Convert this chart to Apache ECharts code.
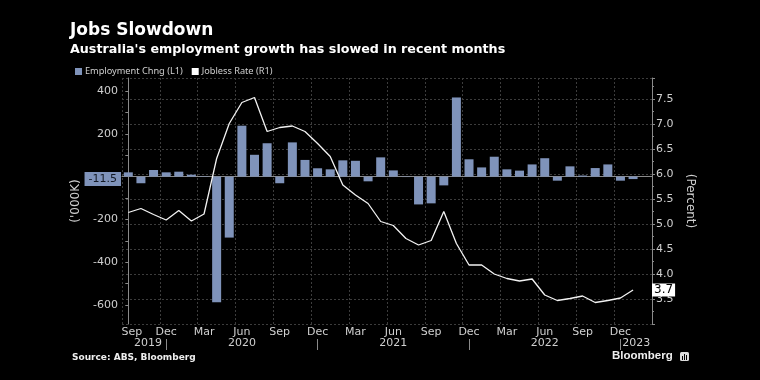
<!DOCTYPE html>
<html>
<head>
<meta charset="utf-8">
<script src="https://cdn.jsdelivr.net/npm/echarts@6/dist/echarts.min.js"></script>
<style>
html,body{margin:0;padding:0;background:#000;}
#chart{width:760px;height:380px;}
</style>
</head>
<body>
<div id="chart"></div>
<script>
// Months (Sep 2019 .. Feb 2023; Feb 2023 is an empty slot at the right edge)
var months = [
  '2019-09','2019-10','2019-11','2019-12',
  '2020-01','2020-02','2020-03','2020-04','2020-05','2020-06','2020-07','2020-08','2020-09','2020-10','2020-11','2020-12',
  '2021-01','2021-02','2021-03','2021-04','2021-05','2021-06','2021-07','2021-08','2021-09','2021-10','2021-11','2021-12',
  '2022-01','2022-02','2022-03','2022-04','2022-05','2022-06','2022-07','2022-08','2022-09','2022-10','2022-11','2022-12',
  '2023-01','2023-02'
];
var monthNames = ['Jan','Feb','Mar','Apr','May','Jun','Jul','Aug','Sep','Oct','Nov','Dec'];

// Employment change, thousands
var employmentChange = [
  20, -31, 31, 20,
  23, 9, 2, -587, -285, 238, 102, 156, -31, 160, 78, 39,
  34, 76, 74, -22, 90, 29, -2, -130, -125, -41, 370, 81,
  43, 93, 34, 28, 57, 86, -19, 48, 5, 40, 57, -19,
  -11.5, null
];

// Jobless rate, percent
var joblessRate = [
  5.23, 5.31, 5.19, 5.08,
  5.27, 5.06, 5.20, 6.31, 7.01, 7.43, 7.53, 6.85, 6.93, 6.96, 6.85, 6.61,
  6.35, 5.78, 5.58, 5.41, 5.05, 4.97, 4.71, 4.58, 4.67, 5.25, 4.61, 4.18,
  4.18, 4.00, 3.91, 3.86, 3.90, 3.58, 3.47, 3.51, 3.56, 3.43, 3.47, 3.52,
  3.68, null
];

// Left axis tick labels / ticks
var leftLabels = [-600, -400, -200, 200, 400];
var leftTicks = [-600, -500, -400, -300, -200, -100, 0, 100, 200, 300, 400];

// Year row labels: text and the month slot they sit on
var yearLabels = ['2019', '2020', '2021', '2022', '2023'];
var yearLabelSlots = [1.56, 9, 21, 33, 40.25];
var yearSeparatorSlots = [3, 15, 27, 39];

var lastEmp = employmentChange[40];
var lastRate = joblessRate[40];

var barColor = '#7f93ba';
var gridColor = '#3c3c3c';
var axisColor = '#8a8a8a';
var labelColor = '#cfcfcf';
var fontFam = '"DejaVu Sans", sans-serif';
var narrowFam = '"Noto Sans", sans-serif';

var chart = echarts.init(document.getElementById('chart'));

var option = {
  backgroundColor: '#000',
  animation: false,
  textStyle: { fontFamily: fontFam },
  title: [{
    text: 'Jobs Slowdown',
    left: 65, top: 17,
    textStyle: { color: '#fff', fontSize: 17, fontWeight: 'bold', fontFamily: fontFam }
  }, {
    text: "Australia's employment growth has slowed in recent months",
    left: 65, top: 38,
    textStyle: { color: '#fff', fontSize: 12.7, fontWeight: 'bold', fontFamily: fontFam }
  }],
  legend: {
    left: 70, top: 62,
    itemWidth: 7, itemHeight: 7, itemGap: 9,
    icon: 'rect',
    textStyle: { color: labelColor, fontSize: 9.2, fontFamily: narrowFam, padding: [0, 0, 0, -2] },
    data: [
      { name: 'Employment Chng (L1)', itemStyle: { color: barColor } },
      { name: 'Jobless Rate (R1)', itemStyle: { color: '#fff' } }
    ]
  },
  grid: { left: 122, right: 108, top: 78, bottom: 56 },
  xAxis: [{
    type: 'category',
    data: months,
    boundaryGap: true,
    axisLine: { lineStyle: { color: axisColor } },
    axisTick: { interval: 0, alignWithLabel: true, length: 3, lineStyle: { color: axisColor } },
    axisLabel: {
      interval: function (i) { return i % 3 === 0; },
      color: labelColor, fontSize: 11, margin: 3, fontFamily: fontFam,
      formatter: function (v, idx) {
        var name = monthNames[parseInt(v.split('-')[1], 10) - 1];
        return idx === 0 ? '\u00a0\u00a0' + name : name;
      }
    },
    splitLine: {
      show: true,
      interval: function (i) { return i % 3 === 0; },
      lineStyle: { color: gridColor, type: [2, 2] }
    }
  }, {
    type: 'value',
    position: 'bottom',
    offset: 15,
    min: -0.5, max: months.length - 0.5,
    axisLine: { show: false },
    splitLine: { show: false },
    axisTick: { show: true, customValues: yearSeparatorSlots, length: 11, lineStyle: { color: axisColor } },
    axisLabel: {
      customValues: yearLabelSlots,
      color: labelColor, fontSize: 11, margin: -1, fontFamily: fontFam,
      formatter: function (v) {
        var best = 0, d = 1e9;
        for (var k = 0; k < yearLabelSlots.length; k++) {
          var dd = Math.abs(yearLabelSlots[k] - v);
          if (dd < d) { d = dd; best = k; }
        }
        return yearLabels[best];
      }
    }
  }],
  yAxis: [{
    type: 'value',
    position: 'left',
    min: -689, max: 461,
    name: "('000K)",
    nameLocation: 'middle',
    nameRotate: 90,
    nameGap: 40,
    nameTextStyle: { color: labelColor, fontSize: 12, fontFamily: fontFam },
    axisLine: { show: true, lineStyle: { color: axisColor } },
    axisTick: { show: true, customValues: leftTicks, length: 3, lineStyle: { color: axisColor } },
    axisLabel: { customValues: leftLabels, color: labelColor, fontSize: 11, margin: 4, fontFamily: fontFam },
    splitLine: { show: false }
  }, {
    type: 'value',
    position: 'right',
    min: 3.0, max: 7.92, interval: 0.5,
    name: '(Percent)',
    nameLocation: 'middle',
    nameRotate: -90,
    nameGap: 30,
    nameTextStyle: { color: labelColor, fontSize: 12, fontFamily: fontFam },
    axisLine: { show: true, lineStyle: { color: axisColor } },
    axisTick: { show: true, length: 3, lineStyle: { color: axisColor } },
    minorTick: { show: true, splitNumber: 2, length: 2, lineStyle: { color: axisColor } },
    axisLabel: {
      color: labelColor, fontSize: 11, margin: 4, fontFamily: fontFam,
      showMinLabel: false, showMaxLabel: false,
      formatter: function (v) { return v.toFixed(1); }
    },
    splitLine: { show: true, lineStyle: { color: gridColor, type: [2, 2] } }
  }],
  series: [{
    name: 'Employment Chng (L1)',
    type: 'bar',
    xAxisIndex: 0, yAxisIndex: 0,
    data: employmentChange,
    barWidth: 9,
    itemStyle: { color: barColor },
    markLine: {
      silent: true,
      symbol: 'none',
      lineStyle: { color: 'rgba(0,0,0,0)', width: 0 },
      label: {
        show: true, position: 'start', distance: 1,
        formatter: function () { return String(lastEmp); },
        backgroundColor: barColor, color: '#141a26',
        fontSize: 11, padding: [2, 4, 1, 4], fontFamily: fontFam
      },
      data: [{ yAxis: lastEmp }]
    }
  }, {
    name: 'Jobless Rate (R1)',
    type: 'line',
    xAxisIndex: 0, yAxisIndex: 1,
    data: joblessRate,
    symbol: 'none',
    lineStyle: { color: '#f2f2f2', width: 1.3 },
    itemStyle: { color: '#fff' },
    z: 5,
    markLine: {
      silent: true,
      symbol: 'none',
      lineStyle: { color: 'rgba(0,0,0,0)', width: 0 },
      label: {
        show: true, position: 'end', distance: 0,
        formatter: function () { return lastRate.toFixed(1); },
        backgroundColor: '#fff', color: '#000',
        fontSize: 12, padding: [1, 2, 0, 2], fontFamily: fontFam
      },
      data: [{ yAxis: lastRate }]
    }
  }],
  graphic: [{
    type: 'text', left: 72, top: 353,
    style: { text: 'Source: ABS, Bloomberg', fill: '#eee', font: 'bold 9px ' + fontFam }
  }, {
    type: 'text', left: 612, top: 350,
    style: { text: 'Bloomberg', fill: '#eee', font: 'bold 11.5px "Liberation Sans", sans-serif' }
  }, {
    type: 'group', left: 680, top: 352,
    children: [
      { type: 'rect', shape: { x: 0, y: 0, width: 9, height: 9, r: 1.5 }, style: { fill: '#ddd' } },
      { type: 'rect', shape: { x: 2, y: 4, width: 1, height: 4 }, style: { fill: '#000' } },
      { type: 'rect', shape: { x: 4, y: 2, width: 1, height: 6 }, style: { fill: '#000' } },
      { type: 'rect', shape: { x: 6, y: 3, width: 1, height: 5 }, style: { fill: '#000' } }
    ]
  }]
};

chart.setOption(option);
</script>
</body>
</html>
